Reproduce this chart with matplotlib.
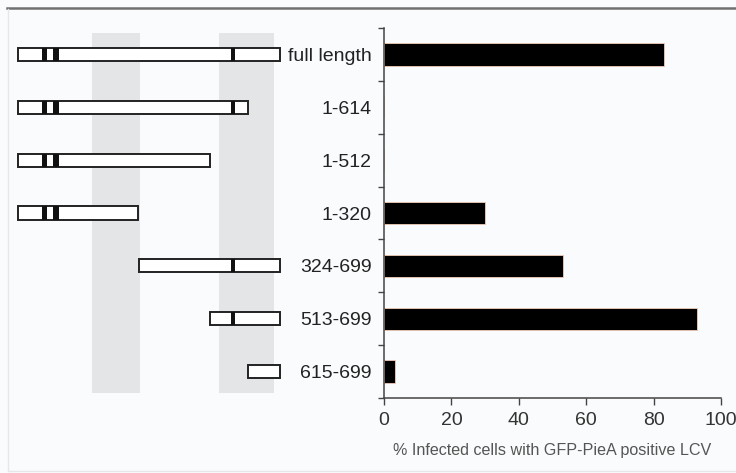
import matplotlib
matplotlib.use("Agg")
import matplotlib.pyplot as plt
from matplotlib.patches import Rectangle
from matplotlib.lines import Line2D

plt.rcParams['font.family'] = ['Liberation Sans', 'DejaVu Sans']

# constructs (amino acid ranges) and measured values
labels = ['full length', '1-614', '1-512', '1-320', '324-699', '513-699', '615-699']
starts = [1, 1, 1, 1, 324, 513, 615]
ends = [699, 614, 512, 320, 699, 699, 699]
infected = [83, 0, 0, 30, 53, 93, 3.3]

# dark motifs in the schematic (aa start, aa end)
motifs = [(65, 78), (92, 109), (567, 579)]
# shaded regions (aa)
shaded = [(197, 325), (536, 683)]

bg = '#fafbfc'
fig = plt.figure(figsize=(7.36, 4.73), dpi=100, facecolor=bg)

W, H = 736, 473
bottom = (H - 398) / H
height = (398 - 28) / H

ax = fig.add_axes([384 / W, bottom, (721 - 384) / W, height], facecolor='none')
axl = fig.add_axes([0, bottom, 384 / W, height], facecolor='none', sharey=ax)

ypos = list(range(len(labels)))

# bar chart
ax.barh(ypos, infected, height=0.42, color='black', edgecolor='#f2cdb8', linewidth=0.6)
ax.set_xlim(0, 100)
ax.set_ylim(len(labels) - 0.5, -0.5)
ax.set_xticks([0, 20, 40, 60, 80, 100])
ax.set_yticks(ypos)
ax.set_yticklabels(labels)
ax.set_yticks([i - 0.5 for i in range(len(labels) + 1)], minor=True)
ax.tick_params(axis='y', which='major', length=0, pad=9, labelsize=14, labelcolor='#222222')
ax.tick_params(axis='y', which='minor', length=4, width=1, color='#444444', direction='out')
ax.tick_params(axis='x', length=5, width=1, color='#444444', pad=5, labelsize=14, labelcolor='#333333')
for s in ['top', 'right']:
    ax.spines[s].set_visible(False)
for s in ['left', 'bottom']:
    ax.spines[s].set_color('#444444')
    ax.spines[s].set_linewidth(1.1)
ax.set_xlabel('% Infected cells with GFP-PieA positive LCV', fontsize=11.6, color='#555555', labelpad=10)

# protein schematic
axl.set_xlim(-48, 976)
axl.axis('off')
for a, b in shaded:
    axl.axvspan(a, b, ymin=5 / 370, ymax=365 / 370, color='#e4e5e6', lw=0, zorder=0)

bh = 0.25
for y, s, e in zip(ypos, starts, ends):
    axl.add_patch(Rectangle((s - 1, y - bh / 2), e - s + 1, bh, facecolor='white',
                            edgecolor='#222222', linewidth=1.4, zorder=2))
    for ma, mb in motifs:
        if ma >= s and mb <= e:
            axl.add_patch(Rectangle((ma, y - bh / 2), mb - ma, bh, facecolor='#111111',
                                    edgecolor='none', zorder=3))

# figure frame
fig.add_artist(Line2D([7 / W, 1], [1 - 8 / H, 1 - 8 / H], color='#707070', lw=1.8))
fig.add_artist(Line2D([8 / W, 8 / W], [1 - 9 / H, 1 - 471 / H], color='#e6e7e8', lw=1))
fig.add_artist(Line2D([8 / W, 1], [1 - 471 / H, 1 - 471 / H], color='#e6e7e8', lw=1))

fig.savefig('out.png', dpi=100, facecolor=bg)
